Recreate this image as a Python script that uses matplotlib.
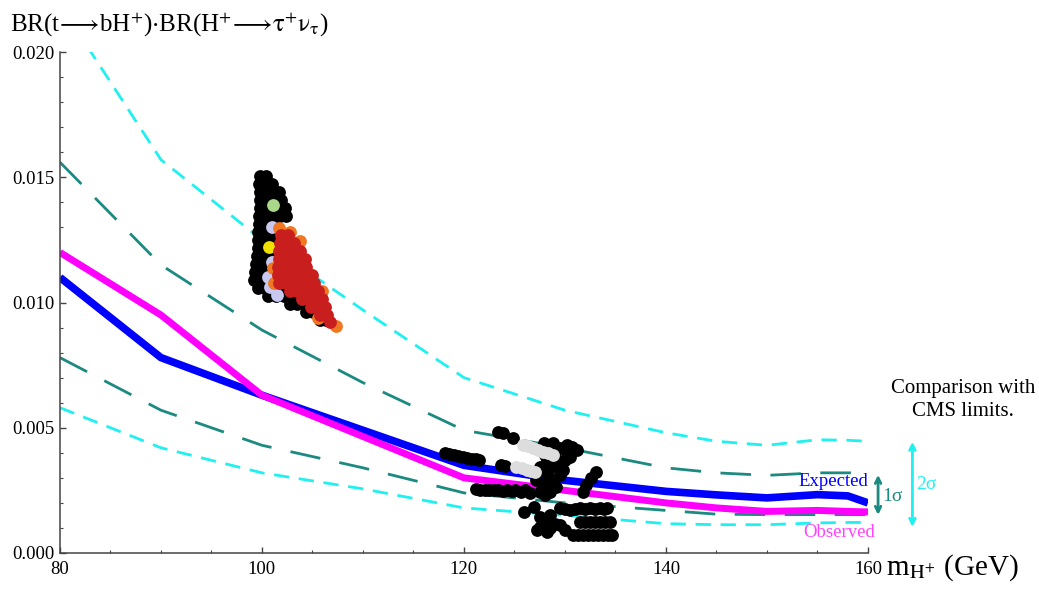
import matplotlib
matplotlib.use("Agg")
import matplotlib.pyplot as plt
from matplotlib.ticker import MultipleLocator, FormatStrFormatter

plt.rcParams["font.family"] = ["Liberation Serif", "DejaVu Serif"]
plt.rcParams["mathtext.fontset"] = "stix"

# CMS limit curves
mass = [80, 90, 100, 110, 120, 130, 140, 145, 150, 155, 158, 160]
expected = [0.0110, 0.0078, 0.0063, 0.0049, 0.0035, 0.0029, 0.00246, 0.00232, 0.0022, 0.00233, 0.00228, 0.0020]
observed = [0.0120, 0.0095, 0.0063, 0.00465, 0.0030, 0.0025, 0.0020, 0.0018, 0.00166, 0.0017, 0.00166, 0.00164]
sig2_up = [0.0219, 0.0157, 0.0125, 0.0097, 0.0070, 0.0057, 0.0048, 0.00446, 0.0043, 0.00452, 0.0045, 0.00446]
sig1_up = [0.0156, 0.0115, 0.0089, 0.0068, 0.0049, 0.0042, 0.0034, 0.0032, 0.0031, 0.0032, 0.0032, 0.0032]
sig1_dn = [0.0078, 0.0057, 0.0043, 0.0034, 0.0024, 0.0020, 0.0017, 0.00155, 0.00153, 0.00153, 0.00153, 0.00153]
sig2_dn = [0.0058, 0.0042, 0.0032, 0.00256, 0.0018, 0.0015, 0.00117, 0.00113, 0.00113, 0.0012, 0.00122, 0.00122]

# model points, cluster near 100 GeV
c1_black_m = [99.80, 100.40,
              99.70, 100.40, 100.99,
              99.80, 100.50, 101.19, 101.68,
              99.80, 100.50, 101.19, 101.88,
              99.80, 100.50, 101.19, 101.88, 102.28,
              99.70, 100.40, 101.09, 101.78, 102.38,
              99.70, 100.40, 101.09,
              99.60, 100.30, 100.99,
              99.60, 100.30, 100.99,
              99.60, 100.30,
              99.50, 100.20, 100.89,
              99.41, 100.10, 100.79,
              99.31, 100.00, 100.69,
              99.21, 99.90, 100.59, 101.29,
              99.60, 100.30, 100.99, 101.78, 102.48,
              100.59, 101.39, 102.18, 102.97, 103.56,
              102.77, 103.47, 104.16, 104.75,
              104.36, 105.05, 105.74,
              105.74, 106.34]
c1_black_v = [0.01505, 0.01505,
              0.01473, 0.01473, 0.01473,
              0.01441, 0.01441, 0.01441, 0.01441,
              0.01408, 0.01408, 0.01408, 0.01408,
              0.01376, 0.01376, 0.01376, 0.01376, 0.01376,
              0.01345, 0.01345, 0.01345, 0.01345, 0.01345,
              0.01313, 0.01313, 0.01313,
              0.01281, 0.01281, 0.01281,
              0.0125, 0.0125, 0.0125,
              0.01218, 0.01218,
              0.01186, 0.01186, 0.01186,
              0.01154, 0.01154, 0.01154,
              0.01122, 0.01122, 0.01122,
              0.0109, 0.0109, 0.0109, 0.0109,
              0.01058, 0.01058, 0.01058, 0.01058, 0.01058,
              0.01026, 0.01026, 0.01026, 0.01026, 0.01026,
              0.00994, 0.00994, 0.00994, 0.00994,
              0.00962, 0.00962, 0.00962,
              0.0093, 0.0093]
c1_lav_m = [101.0, 101.0, 100.8, 101.5, 100.6]
c1_lav_v = [0.01303, 0.01163, 0.0106, 0.0103, 0.0110]
c1_green_m = [101.1]
c1_green_v = [0.01389]
c1_yellow_m = [100.7]
c1_yellow_v = [0.01223]
c1_orange_m = [101.68, 102.77, 101.09, 101.19, 103.76, 105.94, 107.33, 105.54]
c1_orange_v = [0.01297, 0.01281, 0.01138, 0.01078, 0.01246, 0.01046, 0.00906, 0.00938]
c1_red_m = [101.88, 102.57,
            101.78, 102.48, 103.17,
            101.68, 102.38, 103.07, 103.76,
            101.68, 102.38, 103.07, 103.76, 104.26,
            101.58, 102.28, 102.97, 103.66, 104.36,
            101.58, 102.28, 102.97, 103.66, 104.36, 104.95,
            101.68, 102.38, 103.07, 103.76, 104.46, 105.15,
            102.77, 103.47, 104.16, 104.85, 105.54,
            103.96, 104.65, 105.35, 105.94,
            104.85, 105.54, 106.24,
            105.74, 106.44,
            106.73]
c1_red_v = [0.01269, 0.01269,
            0.01238, 0.01238, 0.01238,
            0.01206, 0.01206, 0.01206, 0.01206,
            0.01174, 0.01174, 0.01174, 0.01174, 0.01174,
            0.01142, 0.01142, 0.01142, 0.01142, 0.01142,
            0.0111, 0.0111, 0.0111, 0.0111, 0.0111, 0.0111,
            0.01078, 0.01078, 0.01078, 0.01078, 0.01078, 0.01078,
            0.01046, 0.01046, 0.01046, 0.01046, 0.01046,
            0.01014, 0.01014, 0.01014, 0.01014,
            0.00982, 0.00982, 0.00982,
            0.0095, 0.0095,
            0.00922]

# model points, cluster near 130 GeV
c2_black_m = [118.1, 118.5, 119.0, 119.4, 119.9, 120.3, 120.8, 121.2, 121.5,
              121.2, 121.6, 122.1, 122.5, 123.0, 123.4, 123.9, 124.3, 124.8, 125.1, 125.6, 126.0, 126.5,
              123.4, 123.9, 124.9, 123.7, 124.1,
              127.9, 128.8, 130.2, 131.2, 130.5, 129.5, 128.2, 127.5, 129.2, 129.8, 128.2, 128.8, 127.9, 128.5, 130.2,
              128.51, 129.50, 130.69, 128.02, 129.01, 130.0, 128.51, 129.50, 128.32, 129.11, 127.52, 128.02, 127.13,
              133.1, 132.6, 132.1, 131.8,
              125.9, 126.9, 127.5, 128.5, 129.5, 130.5, 131.5, 132.5, 133.5, 134.2,
              130.0, 131.0, 132.0, 133.0, 133.9,
              127.5, 128.5, 129.5, 131.5, 132.5, 133.5, 134.5,
              132.0, 133.0, 134.0, 128.0, 129.0, 130.0,
              130.8, 131.8, 132.8, 133.8, 134.7, 127.2, 128.2,
              131.3, 132.3, 133.3, 134.3]
c2_black_v = [0.0040, 0.00396, 0.00392, 0.00388, 0.00384, 0.0038, 0.00376, 0.00374, 0.00372,
              0.00256, 0.00251, 0.00252, 0.00251, 0.00252, 0.00251, 0.00248, 0.00251, 0.00248, 0.00251, 0.00244, 0.00251, 0.0024,
              0.00484, 0.0048, 0.0046, 0.00352, 0.00348,
              0.00439, 0.00439, 0.00432, 0.00412, 0.00385, 0.00359, 0.00372, 0.00345, 0.00345, 0.00332, 0.00319, 0.00292, 0.00265, 0.00245, 0.00399,
              0.00411, 0.00419, 0.00423, 0.00391, 0.00379, 0.00371, 0.00339, 0.00311, 0.00291, 0.00263, 0.00244, 0.00232, 0.00291,
              0.00325, 0.00299, 0.00272, 0.00245,
              0.00165, 0.00185, 0.00145, 0.00152, 0.00179, 0.00172, 0.00179, 0.00179, 0.00179, 0.00179,
              0.00176, 0.00176, 0.00176, 0.00176, 0.00176,
              0.00105, 0.00099, 0.00112, 0.00125, 0.00125, 0.00125, 0.00125,
              0.00124, 0.00124, 0.00124, 0.00116, 0.00116, 0.00092,
              0.00072, 0.00072, 0.00072, 0.00072, 0.00072, 0.00092, 0.00084,
              0.00072, 0.00072, 0.00072, 0.00072]
c2_grey_m = [125.8, 126.3, 126.8, 127.3, 127.8, 128.3, 128.8, 125.2, 125.7, 126.2, 126.6, 127.0]
c2_grey_v = [0.00432, 0.00427, 0.0042, 0.00411, 0.00404, 0.00399, 0.00392, 0.00344, 0.00339, 0.00332, 0.00327, 0.00324]

CYAN = "#1ff0f0"
TEAL = "#1b8a80"
BLUE = "#0000ff"
MAGENTA = "#ff00ff"

fig = plt.figure(figsize=(10.39, 5.91), dpi=100)
ax = fig.add_axes([0.0577, 0.0643, 0.7777, 0.8477])

ax.plot(mass, sig2_up, color=CYAN, lw=2, dashes=(5.5, 3.5))
ax.plot(mass, sig2_dn, color=CYAN, lw=2, dashes=(5.5, 3.5))
ax.plot(mass, sig1_up, color=TEAL, lw=2, dashes=(11, 7))
ax.plot(mass, sig1_dn, color=TEAL, lw=2, dashes=(11, 7))
ax.plot(mass, expected, color=BLUE, lw=5.5, solid_capstyle="butt")
ax.plot(mass, observed, color=MAGENTA, lw=5, solid_capstyle="butt")

s = 85
ax.scatter(c1_black_m, c1_black_v, s=s, color="black", lw=0, zorder=3)
ax.scatter(c1_lav_m, c1_lav_v, s=s, color="#c8c8f0", lw=0, zorder=4)
ax.scatter(c1_green_m, c1_green_v, s=s, color="#a8d888", lw=0, zorder=4)
ax.scatter(c1_yellow_m, c1_yellow_v, s=s, color="#f0e000", lw=0, zorder=4)
ax.scatter(c1_orange_m, c1_orange_v, s=s, color="#f07820", lw=0, zorder=5)
ax.scatter(c1_red_m, c1_red_v, s=s, color="#c81e1e", lw=0, zorder=6)
ax.scatter(c2_black_m, c2_black_v, s=s, color="black", lw=0, zorder=3)
ax.scatter(c2_grey_m, c2_grey_v, s=s, color="#dddddd", lw=0, zorder=4)

ax.set_xlim(80, 160)
ax.set_ylim(0, 0.020)
ax.xaxis.set_major_locator(MultipleLocator(20))
ax.xaxis.set_minor_locator(MultipleLocator(5))
ax.yaxis.set_major_locator(MultipleLocator(0.005))
ax.yaxis.set_minor_locator(MultipleLocator(0.001))
ax.yaxis.set_major_formatter(FormatStrFormatter("%.3f"))
for sp in ["top", "right"]:
    ax.spines[sp].set_visible(False)
for sp in ["left", "bottom"]:
    ax.spines[sp].set_color("#444444")
    ax.spines[sp].set_linewidth(1.1)
ax.tick_params(which="both", direction="in", color="#444444", labelsize=13.5)
ax.tick_params(which="major", length=4, width=1)
ax.tick_params(which="minor", length=2.5, width=0.8)
ax.tick_params(axis="x", pad=6)
ax.tick_params(axis="y", pad=4)

# labels outside the frame
fig.text(0.0096, 0.946,
         r"BR(t$\!\longrightarrow\!$bH$^{+}$)$\cdot$BR(H$^{+}$$\!\longrightarrow\!\mathrm{\tau}^{+}\mathrm{\nu}_{\mathrm{\tau}}$)",
         fontsize=18, va="baseline", ha="left")
fig.text(0.853, 0.027, r"m$_{\mathrm{H}^{+}}$ (GeV)", fontsize=21, va="baseline", ha="left")
fig.text(0.9269, 0.3232, "Comparison with\nCMS limits.", fontsize=15, ha="center", va="center",
         linespacing=1.35)

ax.text(156.6, 0.00284, "Expected", color=BLUE, fontsize=13.5, ha="center", va="center", clip_on=False)
ax.text(157.1, 0.0008, "Observed", color="#ff44ff", fontsize=13.5, ha="center", va="center", clip_on=False)
ax.annotate("", xy=(161.0, 0.00312), xytext=(161.0, 0.00152), annotation_clip=False,
            arrowprops=dict(arrowstyle="<->", color=TEAL, lw=2, shrinkA=0, shrinkB=0))
ax.annotate("", xy=(164.4, 0.00444), xytext=(164.4, 0.00104), annotation_clip=False,
            arrowprops=dict(arrowstyle="<->", color=CYAN, lw=2, shrinkA=0, shrinkB=0))
ax.text(162.4, 0.00224, "1σ", color=TEAL, fontsize=14, ha="center", va="center", clip_on=False)
ax.text(165.8, 0.00272, "2σ", color=CYAN, fontsize=14, ha="center", va="center", clip_on=False)

fig.savefig("out.png", dpi=100)
